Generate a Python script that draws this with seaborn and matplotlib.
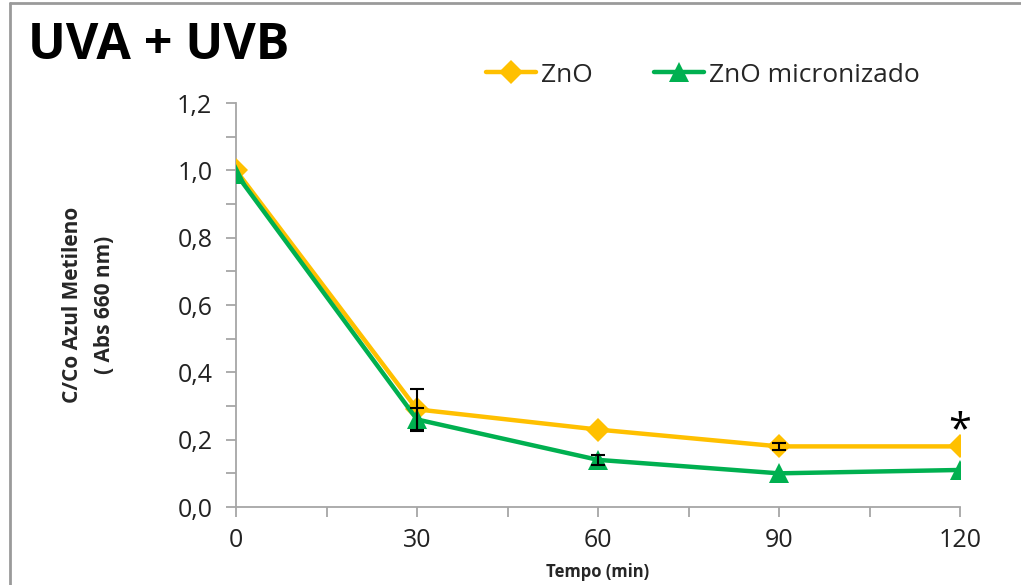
import matplotlib
matplotlib.use("Agg")
import matplotlib.pyplot as plt
from matplotlib.ticker import MultipleLocator, FuncFormatter
from matplotlib.lines import Line2D
import seaborn as sns
import pandas as pd
import numpy as np

# ---- data ----
tempo = [0, 30, 60, 90, 120]
zno = [1.00, 0.29, 0.23, 0.18, 0.18]
zno_err = [np.nan, 0.06, np.nan, 0.01, np.nan]
zno_micro = [0.99, 0.26, 0.14, 0.10, 0.11]
zno_micro_err = [np.nan, 0.035, 0.015, np.nan, np.nan]
series_names = ["ZnO", "ZnO micronizado"]
x_ticks = [0, 30, 60, 90, 120]
y_ticks = [0.0, 0.2, 0.4, 0.6, 0.8, 1.0, 1.2]

df = pd.DataFrame({
    "Tempo": tempo * 2,
    "C": zno + zno_micro,
    "err": zno_err + zno_micro_err,
    "Serie": [series_names[0]] * len(tempo) + [series_names[1]] * len(tempo),
})

sns.set_theme(style="white")
plt.rcParams['font.family'] = ['Open Sans', 'DejaVu Sans']

fig = plt.figure(figsize=(10.21, 5.85), dpi=100)
ax = fig.add_axes([236/1021, 1-507/585, (960-236)/1021, (507-103)/585])

colors = {"ZnO": "#FFC000", "ZnO micronizado": "#00B050"}
markers = {"ZnO": "D", "ZnO micronizado": "^"}
sizes_ms = {"ZnO": 12, "ZnO micronizado": 14}

for name in series_names:
    sub = df[df["Serie"] == name]
    sns.lineplot(data=sub, x="Tempo", y="C", ax=ax, color=colors[name],
                 marker=markers[name], markersize=sizes_ms[name],
                 markeredgewidth=0, linewidth=3.2, label=name, zorder=3)
    e = sub.dropna(subset=["err"])
    ax.errorbar(e["Tempo"], e["C"], yerr=e["err"], fmt="none",
                ecolor="black", elinewidth=1.5, capsize=5, capthick=1.5, zorder=4)

ax.text(120, 0.225, "*", ha="center", va="center", fontsize=30, color="black")

ax.set_xlim(0, 120)
ax.set_ylim(0, 1.2)
ax.set_xticks(x_ticks)
ax.xaxis.set_minor_locator(MultipleLocator(15))
ax.set_yticks(y_ticks)
ax.yaxis.set_minor_locator(MultipleLocator(0.1))
ax.yaxis.set_major_formatter(FuncFormatter(lambda v, p: f"{v:.1f}".replace(".", ",")))

grey = "#A6A6A6"
for s in ["top", "right"]:
    ax.spines[s].set_visible(False)
for s in ["left", "bottom"]:
    ax.spines[s].set_color(grey)
    ax.spines[s].set_linewidth(1.3)
ax.tick_params(axis="both", which="both", direction="out", color=grey, width=1.3,
               length=7, labelsize=18, labelcolor="#222222")
ax.tick_params(axis="x", which="both", bottom=True, pad=8)
ax.tick_params(axis="y", which="both", left=True, pad=10)

ax.set_xlabel("Tempo (min)", fontsize=12, fontweight="bold", labelpad=7)
ax.set_ylabel("C/Co Azul Metileno\n( Abs 660 nm)", fontsize=15, fontweight="bold",
              labelpad=45, linespacing=1.65)

leg = ax.legend(loc="center left", bbox_to_anchor=((486-236)/724, 1+(103-75)/404),
                ncol=2, frameon=False, fontsize=19, handlelength=1.9, handletextpad=0.2,
                columnspacing=2.3, borderaxespad=0, borderpad=0)

fig.text(28/1021, 1-46/585, "UVA + UVB", fontsize=36, fontweight="bold",
         ha="left", va="center", color="black")

fig.add_artist(Line2D([10/1021, 1], [1-3/585, 1-3/585], transform=fig.transFigure, color="#9a9a9a", lw=2))
fig.add_artist(Line2D([10/1021, 10/1021], [0, 1-3/585], transform=fig.transFigure, color="#9a9a9a", lw=2))

fig.savefig("out.png", dpi=100)
